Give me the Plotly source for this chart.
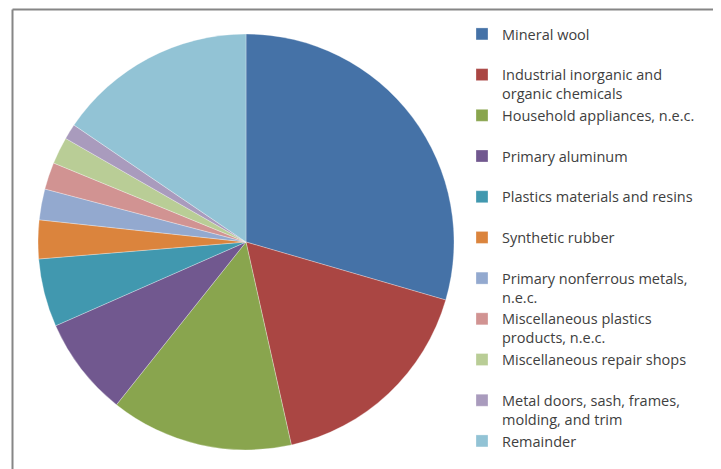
import plotly.graph_objects as go

labels = [
    "Mineral wool",
    "Industrial inorganic and<br>organic chemicals",
    "Household appliances, n.e.c.",
    "Primary aluminum",
    "Plastics materials and resins",
    "Synthetic rubber",
    "Primary nonferrous metals,<br>n.e.c.",
    "Miscellaneous plastics<br>products, n.e.c.",
    "Miscellaneous repair shops",
    "Metal doors, sash, frames,<br>molding, and trim",
    "Remainder",
]
values = [29.5, 17.0, 14.2, 7.7, 5.3, 3.0, 2.4, 2.1, 2.1, 1.2, 15.5]
colors = ["#4572A7", "#AA4643", "#89A54E", "#71588F", "#4198AF", "#DB843D",
          "#93A9CF", "#D19392", "#B9CD96", "#A99BBD", "#92C3D5"]

# every legend slot is two lines tall (except the last one, which needs no padding)
legend_labels = [l if ("<br>" in l or i == len(labels) - 1) else l + "<br>\u00a0"
                 for i, l in enumerate(labels)]

# page body has an 8px margin, so the figure is drawn 8px in from the window corner
OFF = 8
W, H = 721 - OFF, 469 - OFF
cx, cy, r = 246 - OFF, 242 - OFF, 208

fig = go.Figure(go.Pie(
    labels=legend_labels,
    values=values,
    sort=False,
    direction="clockwise",
    rotation=0,
    marker=dict(colors=colors, line=dict(color="white", width=0.3)),
    textinfo="none",
    hoverinfo="label+percent",
    domain=dict(x=[(cx - r) / W, (cx + r) / W], y=[(H - cy - r) / H, (H - cy + r) / H]),
))

fx, fy = 12.5 - OFF, 9.5 - OFF
fig.update_layout(
    width=W, height=H,
    margin=dict(l=0, r=0, t=0, b=0),
    paper_bgcolor="white",
    plot_bgcolor="white",
    font=dict(family="Open Sans, sans-serif", size=14.5, color="#404040"),
    legend=dict(
        x=(462 - OFF) / W, y=1 - (18 - OFF) / H, xanchor="left", yanchor="top",
        valign="top", traceorder="normal",
        font=dict(size=14.5, color="#404040"),
        bgcolor="rgba(0,0,0,0)",
    ),
    shapes=[
        dict(type="line", xref="paper", yref="paper", x0=fx / W, x1=1, y0=1 - fy / H, y1=1 - fy / H,
             line=dict(color="#868686", width=2)),
        dict(type="line", xref="paper", yref="paper", x0=fx / W, x1=fx / W, y0=0, y1=1 - fy / H,
             line=dict(color="#868686", width=2)),
    ],
)

fig.write_html("out.html")
